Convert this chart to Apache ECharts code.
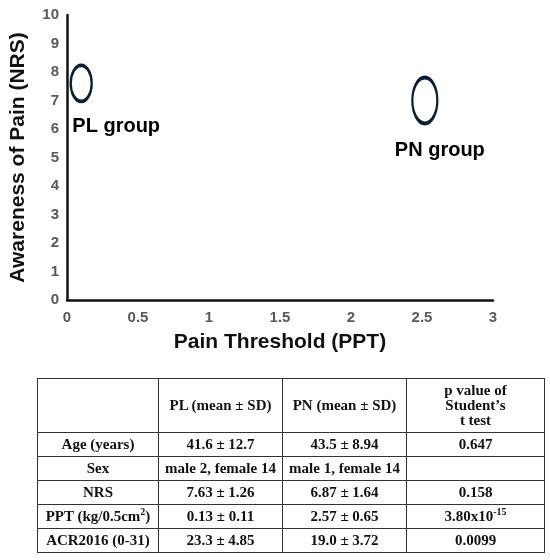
<!DOCTYPE html>
<html><head><meta charset="utf-8">
<script src="https://cdn.jsdelivr.net/npm/echarts@6/dist/echarts.min.js"></script>
<style>
body{margin:0;background:#fff}
#c{position:absolute;left:0;top:0;width:550px;height:560px}
table{position:absolute;left:37px;top:378px;width:508px;border-collapse:collapse;font-family:"Liberation Serif",serif;font-weight:bold;font-size:15px;color:#111}
td{border:1.5px solid #333;text-align:center;padding:0;height:23px;line-height:15px}
tr.h td{height:53px}
sup{font-size:10px;line-height:0}
</style></head><body>
<div id="c"></div>
<table id="t"></table>
<script>
const groups=['PL group','PN group'];
const pptMean=[0.1,2.52];
const nrsMean=[7.6,7.0];
const xTicks=['0','0.5','1','1.5','2','2.5','3'];
const header=['','PL (mean ± SD)','PN (mean ± SD)','p value of<br>Student’s<br>t test'];
const rowLabels=['Age (years)','Sex','NRS','PPT (kg/0.5cm<sup>2</sup>)','ACR2016 (0-31)'];
const plCol=['41.6 ± 12.7','male 2, female 14','7.63 ± 1.26','0.13 ± 0.11','23.3 ± 4.85'];
const pnCol=['43.5 ± 8.94','male 1, female 14','6.87 ± 1.64','2.57 ± 0.65','19.0 ± 3.72'];
const pCol=['0.647','','0.158','3.80x10<sup>-15</sup>','0.0099'];

let html='<tr class="h">'+header.map(h=>'<td>'+h+'</td>').join('')+'</tr>';
rowLabels.forEach((r,i)=>{html+='<tr><td>'+r+'</td><td>'+plCol[i]+'</td><td>'+pnCol[i]+'</td><td>'+pCol[i]+'</td></tr>';});
document.getElementById('t').innerHTML=html;
document.getElementById('t').rows[0].cells[0].style.width='120px';
document.getElementById('t').rows[0].cells[1].style.width='123px';
document.getElementById('t').rows[0].cells[2].style.width='123px';

const chart=echarts.init(document.getElementById('c'));
const axLab={color:'#595959',fontWeight:'bold',fontSize:15,fontFamily:'Liberation Sans'};
const lab={show:true,position:'bottom',color:'#000',fontSize:20,fontWeight:'bold',fontFamily:'Liberation Sans',opacity:1};
chart.setOption({
  animation:false,
  grid:{left:61,right:57,top:15,bottom:260},
  xAxis:{type:'value',min:0,max:3,interval:0.5,
    axisLine:{lineStyle:{color:'#111',width:2.5}},axisTick:{show:false},splitLine:{show:false},
    axisLabel:Object.assign({margin:10,formatter:(v)=>xTicks[Math.round(v*2)]},axLab),
    name:'Pain Threshold (PPT)',nameLocation:'middle',nameGap:32,
    nameTextStyle:{fontSize:21,fontWeight:'bold',color:'#111',fontFamily:'Liberation Sans'}},
  yAxis:{type:'value',min:0,max:10,interval:1,
    axisLine:{show:true,lineStyle:{color:'#111',width:2.5}},axisTick:{show:false},splitLine:{show:false},
    axisLabel:Object.assign({margin:8},axLab),
    name:'Awareness of Pain (NRS)',nameLocation:'middle',nameGap:38,
    nameTextStyle:{fontSize:21,fontWeight:'bold',color:'#111',fontFamily:'Liberation Sans'}},
  series:[
    {type:'scatter',data:[[pptMean[0],nrsMean[0]]],symbol:'circle',symbolSize:[21,36],
     itemStyle:{color:'rgba(0,0,0,0)',borderColor:'#0a1f30',borderWidth:3,opacity:1},
     label:Object.assign({formatter:groups[0],offset:[35,8]},lab)},
    {type:'scatter',data:[[pptMean[1],nrsMean[1]]],symbol:'circle',symbolSize:[25,46],
     itemStyle:{color:'rgba(0,0,0,0)',borderColor:'#0a1f30',borderWidth:3,opacity:1},
     label:Object.assign({formatter:groups[1],offset:[15,10]},lab)}
  ]
});
</script></body></html>
